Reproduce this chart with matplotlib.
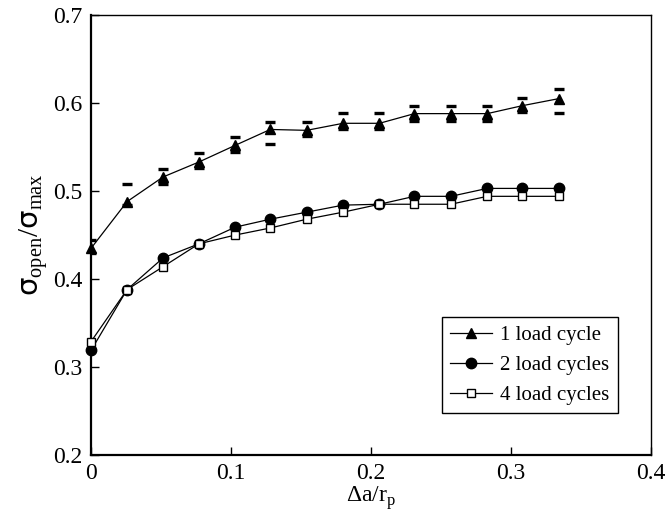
import numpy as np
import matplotlib
matplotlib.use('Agg')
import matplotlib.pyplot as plt

plt.rcParams['font.family'] = 'Liberation Serif'
plt.rcParams['mathtext.fontset'] = 'custom'
plt.rcParams['mathtext.rm'] = 'Liberation Serif'
plt.rcParams['mathtext.sf'] = 'DejaVu Sans'

# crack growth increments (da / rp)
da_rp = [0.0, 0.0257, 0.0514, 0.077, 0.103, 0.128, 0.154, 0.180, 0.206,
         0.231, 0.257, 0.283, 0.308, 0.334]

one_cycle = [0.435, 0.488, 0.516, 0.533, 0.552, 0.570, 0.569, 0.577, 0.577,
             0.588, 0.588, 0.588, 0.597, 0.605]
one_upper = [0.444, 0.508, 0.525, 0.543, 0.561, 0.579, 0.579, 0.589, 0.589,
             0.597, 0.597, 0.597, 0.606, 0.616]
one_lower = [0.430, 0.484, 0.508, 0.526, 0.544, 0.553, 0.562, 0.571, 0.571,
             0.580, 0.580, 0.580, 0.590, 0.589]

two_cycles = [0.319, 0.388, 0.424, 0.440, 0.459, 0.468, 0.476, 0.484, 0.485,
              0.494, 0.494, 0.503, 0.503, 0.503]
four_cycles = [0.329, 0.388, 0.414, 0.440, 0.450, 0.458, 0.468, 0.476, 0.485,
               0.485, 0.485, 0.494, 0.494, 0.494]

fig = plt.figure(figsize=(6.65, 5.2), dpi=100)
ax = fig.add_axes([0.137, 0.125, 0.842, 0.846])

ax.plot(da_rp, one_upper, ls='none', marker='_', ms=7, mew=2.4, color='black', zorder=5)
ax.plot(da_rp, one_lower, ls='none', marker='_', ms=7, mew=2.4, color='black', zorder=5)
ax.plot(da_rp, one_cycle, '-', color='black', lw=0.9, marker='^', ms=7.5,
        label='1 load cycle', clip_on=False, zorder=4)
ax.plot(da_rp, two_cycles, '-', color='black', lw=0.9, marker='o', ms=7.5,
        label='2 load cycles', clip_on=False, zorder=4)
ax.plot(da_rp, four_cycles, '-', color='black', lw=0.9, marker='s', ms=5.2,
        mfc='white', mew=1.0, label='4 load cycles', clip_on=False, zorder=5)

ax.set_xlim(0, 0.4)
ax.set_ylim(0.2, 0.7)
ax.set_xticks([0, 0.1, 0.2, 0.3, 0.4])
ax.set_xticklabels(['0', '0.1', '0.2', '0.3', '0.4'])
ax.set_yticks([0.2, 0.3, 0.4, 0.5, 0.6, 0.7])
ax.set_yticklabels(['0.2', '0.3', '0.4', '0.5', '0.6', '0.7'])
ax.tick_params(direction='in', length=6, width=1, labelsize=17, pad=6)

for s in ['left', 'bottom']:
    ax.spines[s].set_linewidth(1.6)
for s in ['top', 'right']:
    ax.spines[s].set_linewidth(1.0)

ax.set_xlabel(r'$\mathrm{\Delta}$a/r$_{\mathrm{p}}$', fontsize=17, labelpad=0)
ax.set_ylabel(r'$\mathsf{\sigma}_{\mathrm{open}}/\mathsf{\sigma}_{\mathrm{max}}$',
              fontsize=21, labelpad=2)

leg = ax.legend(loc='lower right', bbox_to_anchor=(0.941, 0.095), fontsize=15,
                frameon=True, fancybox=False, edgecolor='black', framealpha=1,
                handlelength=2.0, handletextpad=0.4, borderpad=0.4,
                labelspacing=0.5, borderaxespad=0)
leg.get_frame().set_linewidth(1.0)

fig.savefig('out.png', dpi=100)
